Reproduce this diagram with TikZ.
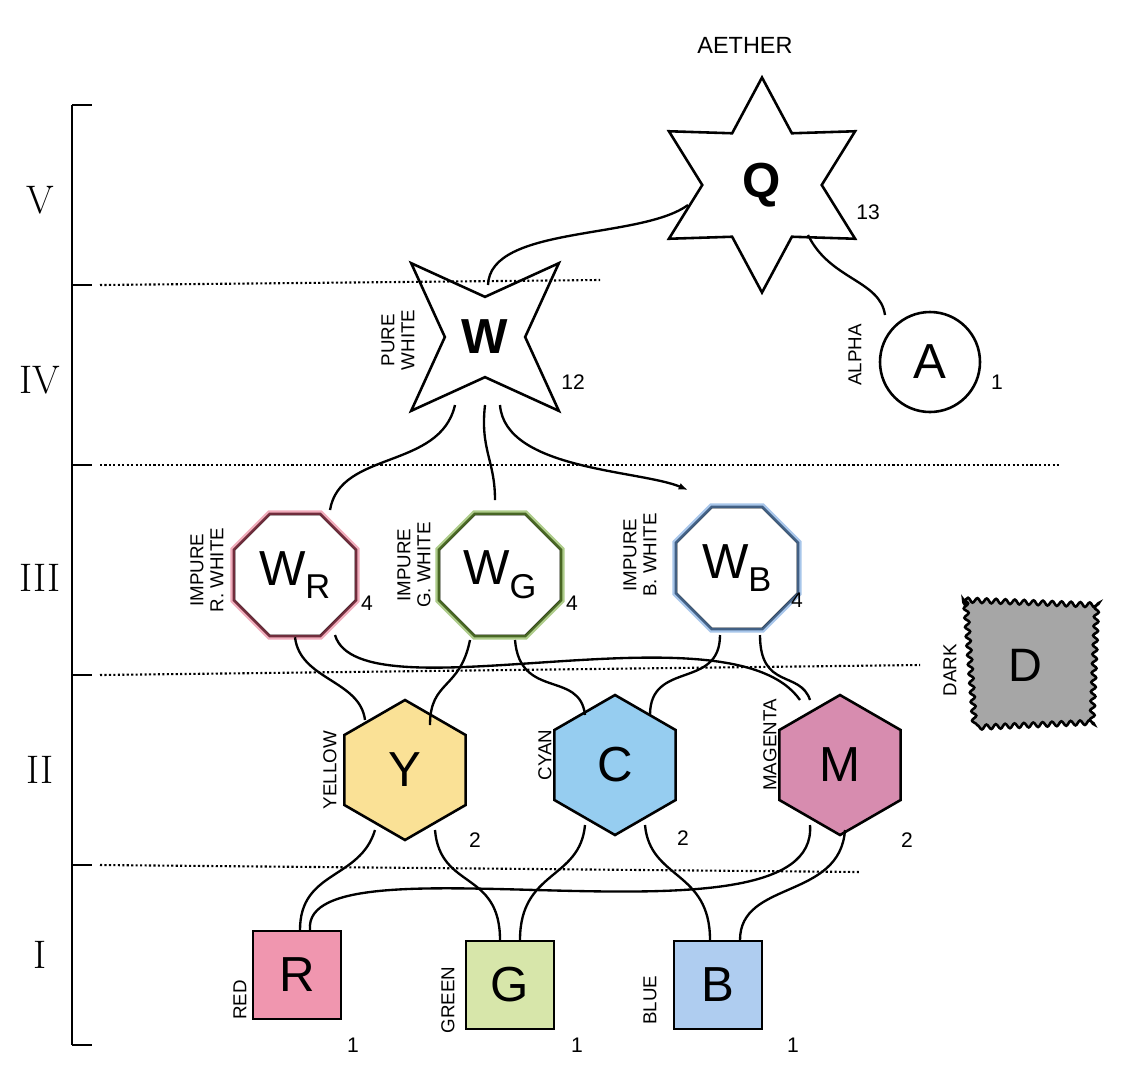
\documentclass[tikz,border=0pt]{standalone}
\usepackage{fontspec}
\setsansfont{Liberation Sans}
\usetikzlibrary{calc}
\usetikzlibrary{arrows.meta}
\usetikzlibrary{shapes.geometric}
\usetikzlibrary{decorations.pathmorphing}
\definecolor{penred}{RGB}{225,90,120}
\definecolor{pengreen}{RGB}{120,170,60}
\definecolor{penblue}{RGB}{110,160,220}
\definecolor{fillY}{RGB}{250,225,150}
\definecolor{fillC}{RGB}{150,205,240}
\definecolor{fillM}{RGB}{215,140,175}
\definecolor{fillR}{RGB}{240,150,175}
\definecolor{fillG}{RGB}{215,230,170}
\definecolor{fillB}{RGB}{175,205,240}
\begin{document}
\begin{tikzpicture}[x=0.03cm,y=-0.03cm, line width=2.2pt,
    big/.style={font=\sffamily\fontsize{42}{46}\selectfont},
    side/.style={font=\sffamily\fontsize{16}{17}\selectfont, rotate=90, align=center},
    num/.style={font=\sffamily\fontsize{18}{20}\selectfont},
    roman/.style={font=\fontsize{34}{36}\selectfont},
    octa/.style={regular polygon, regular polygon sides=8, draw, line width=2.2pt,
        minimum size=132*0.03cm, inner sep=0pt},
    hexa/.style={regular polygon, regular polygon sides=6, shape border rotate=30, draw,
        minimum size=140*0.03cm, inner sep=0pt, line width=2.2pt},
    sq/.style={rectangle, draw, minimum size=88*0.03cm, inner sep=0pt, line width=2.2pt},
    wire/.style={line width=2pt},
    level/.style={dotted, line width=1.8pt},
  ]
  \useasboundingbox (0,0) rectangle (1125,1080);

  % scale
  \coordinate (top) at (72,105);
  \coordinate (bot) at (72,1045);
  \draw (top) -- (bot);
  \foreach \y in {105,285,465,675,865,1045}
    \draw (72,\y) -- (92,\y);
  \node[roman] at (40,200) {V};
  \node[roman] at (40,380) {IV};
  \node[roman] at (40,578) {III};
  \node[roman] at (40,770) {II};
  \node[roman] at (40,955) {I};

  % levels
  \draw[level] (100,285) -- (600,280);
  \draw[level] (100,465) -- (1060,465);
  \draw[level] (100,675) -- (920,665);
  \draw[level] (100,865) -- (860,872);

  % TOP
  \node[star, star points=6, star point ratio=1.8, draw, minimum size=215*0.03cm,
        inner sep=0pt, big] (Q) at (762,185) {\textbf{Q}};
  \node[font=\sffamily\fontsize{20}{22}\selectfont] (aether) at (745,45) {AETHER};
  \node[num] (q13) at (868,212) {13};

  \node[star, star points=4, star point ratio=2.6, draw, minimum size=190*0.03cm,
        inner sep=0pt, big, rotate=45] (W) at (485,337) {\rotatebox{-45}{\textbf{W}}};
  \node[side] (pw) at (398,340) {PURE\\WHITE};
  \node[num] (w12) at (573,382) {12};

  \node[circle, draw, minimum size=100*0.03cm, inner sep=0pt, big] (A) at (930,362) {A};
  \node[side] (alpha) at (855,355) {ALPHA};
  \node[num] (a1) at (997,382) {1};

  % THIRD
  \node[octa, big] (Wr) at (295,575) {W\textsubscript{R}};
  \node[octa, big] (Wg) at (500,575) {W\textsubscript{G}};
  \node[octa, big] (Wb) at (737,568) {W\textsubscript{B}};
  \draw[penred, line width=4pt, opacity=.5] (Wr.corner 1) -- (Wr.corner 2) -- (Wr.corner 3) -- (Wr.corner 4) -- (Wr.corner 5) -- (Wr.corner 6) -- (Wr.corner 7) -- (Wr.corner 8) -- cycle;
  \draw[pengreen, line width=4pt, opacity=.6] (Wg.corner 1) -- (Wg.corner 2) -- (Wg.corner 3) -- (Wg.corner 4) -- (Wg.corner 5) -- (Wg.corner 6) -- (Wg.corner 7) -- (Wg.corner 8) -- cycle;
  \draw[penblue, line width=4pt, opacity=.6] (Wb.corner 1) -- (Wb.corner 2) -- (Wb.corner 3) -- (Wb.corner 4) -- (Wb.corner 5) -- (Wb.corner 6) -- (Wb.corner 7) -- (Wb.corner 8) -- cycle;
  \node[side] (lr) at (207,570) {IMPURE\\R. WHITE};
  \node[side] (lg) at (414,565) {IMPURE\\G. WHITE};
  \node[side] (lb) at (640,555) {IMPURE\\B. WHITE};
  \node[num] (r4) at (367,603) {4};
  \node[num] (g4) at (572,603) {4};
  \node[num] (b4) at (797,600) {4};

  % dark
  \draw[fill=gray!70, decorate, decoration={snake, segment length=8pt, amplitude=2pt}]
    (965,600) -- (1095,605) -- (1090,730) -- (975,735) -- cycle;
  \node[font=\sffamily\fontsize{40}{44}\selectfont] (D) at (1025,665) {D};
  \node[side] (dark) at (950,670) {DARK};

  % SECOND
  \node[hexa, fill=fillY, big] (Y) at (405,770) {Y};
  \node[hexa, fill=fillC, big] (C) at (615,765) {C};
  \node[hexa, fill=fillM, big] (M) at (840,765) {M};
  \node[side] (ly) at (330,770) {YELLOW};
  \node[side] (lc) at (545,755) {CYAN};
  \node[side] (lm) at (770,745) {MAGENTA};
  \node[num] (y2) at (475,840) {2};
  \node[num] (c2) at (683,838) {2};
  \node[num] (m2) at (907,840) {2};

  % FIRST
  \node[sq, fill=fillR, big] (R) at (297,975) {R};
  \node[sq, fill=fillG, big] (G) at (510,985) {G};
  \node[sq, fill=fillB, big] (B) at (718,985) {B};
  \node[side] (lR) at (240,1000) {RED};
  \node[side] (lG) at (448,1000) {GREEN};
  \node[side] (lB) at (650,1000) {BLUE};
  \node[num] (R1) at (353,1045) {1};
  \node[num] (G1) at (577,1045) {1};
  \node[num] (B1) at (793,1045) {1};

  % wires
  \draw[wire] (488,285) .. controls (490,225) and (640,240) .. (688,205);
  \draw[wire] (808,235) .. controls (830,280) and (880,280) .. (885,315);
  \draw[wire] (455,405) .. controls (440,470) and (340,450) .. (330,510);
  \draw[wire] (485,405) .. controls (480,450) and (495,460) .. (495,500);
  \draw[wire, -{Latex[length=8pt]}] (500,405) .. controls (505,470) and (640,470) .. (688,490);

  \draw[wire] (Wr.south) .. controls (300,680) and (360,680) .. (365,720);
  \draw[wire] (335,635) .. controls (360,720) and (730,600) .. (800,700);
  \draw[wire] (470,640) .. controls (460,690) and (430,680) .. (430,725);
  \draw[wire] (515,640) .. controls (520,700) and (580,670) .. (585,715);
  \draw[wire] (720,635) .. controls (720,690) and (650,660) .. (650,715);
  \draw[wire] (760,635) .. controls (760,690) and (800,670) .. (810,700);

  \draw[wire] (375,830) .. controls (360,880) and (300,870) .. (300,930);
  \draw[wire] (435,830) .. controls (440,890) and (500,870) .. (500,940);
  \draw[wire] (585,825) .. controls (580,880) and (520,870) .. (520,940);
  \draw[wire] (645,825) .. controls (650,880) and (710,870) .. (710,940);
  \draw[wire] (810,825) .. controls (820,960) and (300,830) .. (310,930);
  \draw[wire] (845,830) .. controls (840,900) and (740,880) .. (740,940);
\end{tikzpicture}
\end{document}
